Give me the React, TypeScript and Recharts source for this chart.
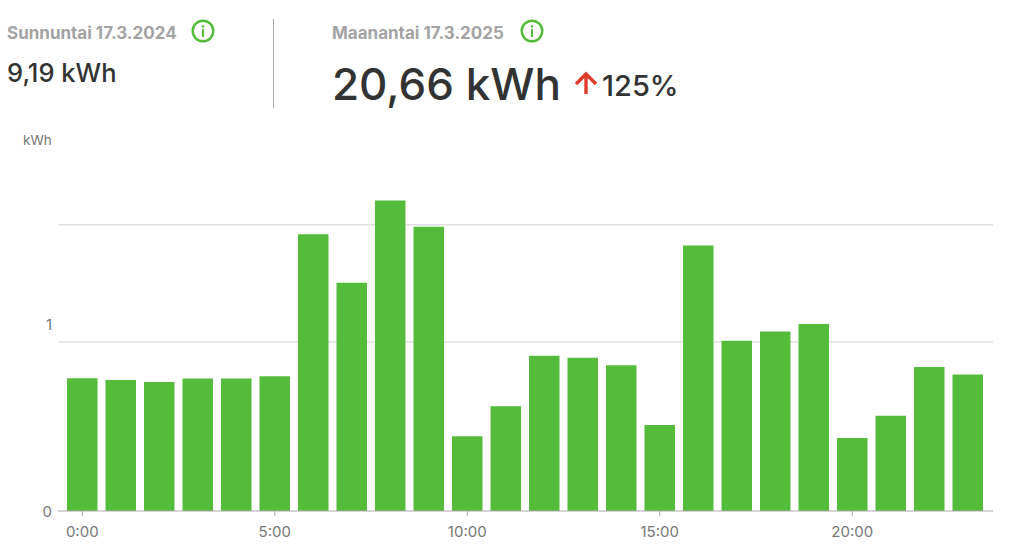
import { BarChart, Bar, XAxis, YAxis, CartesianGrid } from 'recharts';

const hours = ['0:00','1:00','2:00','3:00','4:00','5:00','6:00','7:00','8:00','9:00','10:00','11:00','12:00','13:00','14:00','15:00','16:00','17:00','18:00','19:00','20:00','21:00','22:00','23:00'];
const kwh = [0.71,0.70,0.69,0.708,0.708,0.72,1.48,1.22,1.66,1.52,0.40,0.56,0.83,0.82,0.78,0.46,1.42,0.91,0.96,1.0,0.39,0.51,0.77,0.73];
const xTicks = ['0:00','5:00','10:00','15:00','20:00'];
const yTicks = [0, 1];
const gridLevels = [0.904, 1.53];

const data = hours.map((hour, i) => ({ hour, kwh: kwh[i] }));
const font = 'Inter, sans-serif';

function InfoIcon({ x, y }: { x: number; y: number }) {
  return (
    <svg width="26" height="26" style={{ position: 'absolute', left: x, top: y }}>
      <circle cx="13" cy="13" r="10.3" fill="none" stroke="#55bb3a" strokeWidth="2.4" />
      <circle cx="13" cy="8.5" r="1.3" fill="#55bb3a" />
      <rect x="12" y="11" width="2" height="8" fill="#55bb3a" />
    </svg>
  );
}

function Txt({ x, y, size, color, weight, children }: any) {
  return (
    <div style={{ position: 'absolute', left: x, top: y, fontSize: size, color, fontWeight: weight, lineHeight: 1, whiteSpace: 'nowrap', fontFamily: font }}>
      {children}
    </div>
  );
}

export default function App() {
  return (
    <div style={{ position: 'absolute', left: 0, top: 0, width: 1024, height: 548, background: '#fff', overflow: 'hidden' }}>
      <Txt x={7} y={25} size={17} color="#a3a3a3" weight={700}>Sunnuntai 17.3.2024</Txt>
      <InfoIcon x={190} y={18} />
      <Txt x={7} y={60} size={25.5} color="#333" weight={500}>9,19 kWh</Txt>
      <div style={{ position: 'absolute', left: 273, top: 19, width: 1, height: 89, background: '#aaa' }} />
      <Txt x={332} y={25} size={17} color="#a3a3a3" weight={700}>Maanantai 17.3.2025</Txt>
      <InfoIcon x={519} y={18} />
      <Txt x={332} y={62} size={44} color="#333" weight={500}>20,66 kWh</Txt>
      <svg width="26" height="30" style={{ position: 'absolute', left: 573, top: 70 }}>
        <path d="M13 24 V4 M3 14 L13 4 L23 14" fill="none" stroke="#e03c2d" strokeWidth="3.4" />
      </svg>
      <Txt x={602} y={71} size={29} color="#333" weight={500}>125%</Txt>
      <Txt x={23} y={134} size={13.5} color="#777" weight={400}>kWh</Txt>
      <div style={{ position: 'absolute', left: 0, top: 0 }}>
        <BarChart width={1024} height={548} data={data} margin={{ top: 137, right: 31, bottom: 7, left: 0 }} barSize={30.5}>
          <CartesianGrid vertical={false} horizontalValues={gridLevels} stroke="#cfcfcf" />
          <XAxis
            dataKey="hour"
            ticks={xTicks}
            interval={0}
            height={30}
            padding={{ left: 5, right: 6 }}
            stroke="#aaa"
            tickSize={5}
            tickMargin={10}
            tick={{ fill: '#777', fontSize: 15, fontFamily: font }}
          />
          <YAxis
            width={58}
            domain={[0, 2]}
            ticks={yTicks}
            axisLine={false}
            tickLine={false}
            tickMargin={0}
            tick={{ fill: '#777', fontSize: 15, fontFamily: font, dy: 1 }}
          />
          <Bar dataKey="kwh" fill="#55bb3a" isAnimationActive={false} />
        </BarChart>
      </div>
    </div>
  );
}
